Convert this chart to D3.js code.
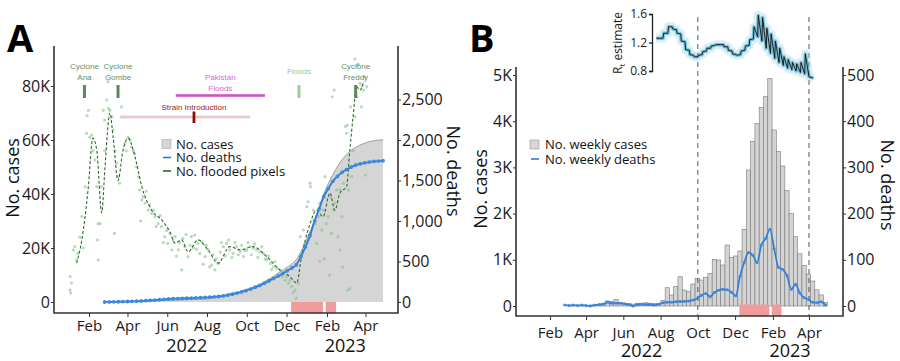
<!DOCTYPE html>
<html>
<head>
<meta charset="utf-8">
<script src="https://cdn.jsdelivr.net/npm/d3@7"></script>
<style>
body { margin: 0; background: #fff; }
svg { display: block; font-family: 'Open Sans', sans-serif; }
</style>
</head>
<body>
<svg id="chart" width="900" height="361"></svg>
<script>
// weekly series, one value per week starting at weekStart
var weekStart = '2022-02-25'
var weeklyCases = [0,5,5,10,10,15,20,20,30,60,110,100,145,80,60,50,40,60,60,70,60,50,60,120,
	396,238,418,634,346,310,476,600,563,621,708,1010,996,887,1320,1054,1082,1190,1660,
	2944,3565,3950,4300,4530,4928,3810,3340,3030,2500,2000,1500,1130,880,690,540,350,240,80]
var weeklyDeaths = [2,1,2,1,2,1,0,2,3,4,8,6,6,6,5,3,0,3,4,3,3,2,4,7,8,8,9,10,10,11,13,16,23,27,20,
	29,34,36,35,30,22,64,94,116,110,94,132,146,166,124,84,79,66,36,47,28,18,14,8,7,9,2]
// cumulative deaths as plotted in panel A
var cumDeaths = [0,1,2,3,5,6,8,10,13,16,20,24,28,33,37,40,42,44,46,48,50,53,56,60,64,68,75,85,97,
	110,125,140,160,182,205,232,260,290,320,350,385,420,460,560,680,820,1000,1150,1300,1400,
	1490,1550,1600,1635,1665,1690,1705,1718,1728,1735,1740,1744]

// flooded pixels: [days since 1 Jan 2022, pixels]
var floodPoints = [[2,4400],[2,9400],[3,3300],[4,7000],[7,19300],[9,20500],[12,15600],[14,18000],[17,24000],
	[20,31600],[22,20000],[25,42700],[27,62500],[28,69000],[30,71000],[32,61000],[35,61800],[37,56000],
	[40,52600],[43,42700],[44,23000],[45,15600],[45,29000],[48,29000],[50,42700],[53,71000],[55,56000],
	[55,67400],[58,74800],[60,81600],[61,71700],[63,71000],[66,68600],[68,63700],[70,25400],[71,56000],
	[73,51400],[76,46400],[78,44000],[81,72300],[84,68600],[86,58800],[88,56000],[91,61000],[94,60000],
	[96,57500],[99,56000],[101,55000],[104,50000],[107,46400],[109,41500],[110,30000],[112,37800],
	[114,39000],[117,36600],[119,41000],[122,34000],[124,36000],[127,32800],[130,34000],[132,31600],
	[134,28000],[137,29000],[140,32000],[142,27900],[145,22000],[147,24200],[150,26500],[152,21700],
	[155,25400],[158,19300],[160,23000],[163,24200],[165,17000],[168,19300],[170,22000],[173,11900],
	[175,23500],[178,20500],[180,25000],[183,16800],[186,21000],[188,24200],[191,20000],[193,24800],
	[196,19500],[198,21700],[201,18000],[204,22300],[206,14000],[209,16800],[211,21000],[214,19300],
	[216,13000],[219,13700],[221,17500],[224,11900],[226,16000],[229,14300],[232,18500],[234,22000],
	[237,20500],[240,17000],[242,21700],[245,23000],[247,19300],[250,16500],[252,18000],[255,22000],
	[257,20500],[260,17500],[263,18600],[265,21000],[268,16800],[270,19000],[273,19300],[275,22000],
	[278,20500],[280,17500],[283,19900],[285,21500],[288,19300],[290,16500],[293,18600],[296,20500],
	[298,18000],[301,16000],[303,15600],[306,17000],[309,14300],[311,12000],[314,13000],[316,15000],
	[319,12500],[321,10000],[324,11900],[327,9400],[329,10600],[332,8100],[334,9400],[337,6900],
	[339,8100],[342,5700],[344,3500],[347,4400],[349,1400],[352,6900],[355,24200],[357,18000],
	[360,26700],[362,21700],[365,35300],[367,37100],[370,44000],[371,42700],[375,34000],[378,29000],
	[380,21700],[383,31600],[385,36600],[385,15000],[388,26700],[390,34000],[392,16000],[393,46400],
	[395,29000],[398,31600],[400,10000],[401,39000],[403,25400],[404,76000],[406,34000],[407,78500],
	[408,36600],[411,41500],[413,24200],[416,41500],[416,19300],[419,31600],[420,13000],[421,44000],
	[424,65000],[426,62500],[427,65500],[428,4400],[429,41500],[431,5000],[432,72300],[434,46400],
	[436,56000],[439,68600],[439,90000],[442,76000],[443,87800],[444,88000],[447,81000],[449,72300],
	[450,80000],[452,78500],[454,83400],[455,47000],[457,79800]]
var floodTrend = [[12,14400],[20,23000],[29.5,41500],[37,60700],[43,56000],[50.5,33000],[55.5,50000],
	[63,70000],[68,61000],[75.5,45000],[83,56000],[91,60700],[101.5,53800],[112,42700],[127,34000],
	[142.5,30400],[155,26000],[163,21800],[173,23000],[183,18600],[198,23000],[213.5,19300],[229,14400],
	[247,20500],[262.6,19300],[282.5,20500],[303.5,16800],[324,11800],[339,9400],[349.6,7000],[357,16800],
	[370,29000],[380,34000],[390,31600],[400.6,40400],[408,34000],[416,40400],[426,42700],[431,56000],
	[436,68600],[441.6,79700],[446.6,78500],[451.7,81000]]

// reproduction number estimate: [days since 1 Jan 2022, Rt]
var rtPoints = [[205,1.26],[216,1.26],[217,1.33],[224,1.33],[225,1.42],[231,1.42],[232,1.39],[238,1.38],
	[239,1.33],[245,1.32],[246,1.22],[252,1.21],[253,1.10],[259,1.09],[260,1.03],[266,1.02],[267,1.0],
	[273,1.0],[274,1.02],[280,1.03],[281,1.07],[287,1.08],[288,1.12],[294,1.12],[295,1.15],[301,1.16],
	[302,1.17],[315,1.17],[316,1.14],[322,1.14],[323,1.09],[329,1.08],[330,1.04],[336,1.03],[337,1.02],
	[343,1.03],[344,1.08],[350,1.09],[351,1.15],[357,1.16],[358,1.24],[364,1.25],[365,1.42],[371,1.28],
	[372,1.58],[378,1.22],[379,1.55],[385,1.12],[386,1.40],[392,1.05],[393,1.32],[399,0.98],[400,1.22],
	[406,0.92],[407,1.12],[413,0.88],[414,1.0],[420,0.84],[421,0.96],[427,0.82],[428,0.92],[434,0.8],
	[435,0.9],[441,0.78],[442,0.92],[448,0.76],[449,1.04],[455,0.72],[462,0.70]]

var pointEvents = [
	{lines: ['Cyclone', 'Ana'], day: 24, kind: 'cyclone'},
	{lines: ['Cyclone', 'Gombe'], day: 75.5, kind: 'cyclone'},
	{lines: ['Floods'], day: 353, kind: 'flood'},
	{lines: ['Cyclone', 'Freddy'], day: 440, kind: 'cyclone'}
]
var pakistanFloods = {lines: ['Pakistan', 'Floods'], from: 164, to: 301}
var strainIntro = {lines: ['Strain Introduction'], from: 78.5, to: 278, mark: 192}

var shadedPeriods = [['2022-12-08', '2023-01-26'], ['2023-01-30', '2023-02-15']]
var dashedDates = ['2022-10-01', '2023-04-01']
var monthTicks = ['2022-02-01','2022-04-01','2022-06-01','2022-08-01','2022-10-01','2022-12-01','2023-02-01','2023-04-01']
var yearLabels = [['2022', '2022-07-01'], ['2023', '2023-03-01']]
var casesTicksA = [0, 20000, 40000, 60000, 80000]
var deathTicksA = [0, 500, 1000, 1500, 2000, 2500]
var casesTicksB = [0, 1000, 2000, 3000, 4000, 5000]
var deathTicksB = [0, 100, 200, 300, 400, 500]
var rtTicks = [0.8, 1.2, 1.6]

var parse = d3.timeParse('%Y-%m-%d')
var day0 = parse('2022-01-01')
var fromDay = function(d) { return new Date(+day0 + d * 864e5) }
var weeks = weeklyCases.map(function(v, i) { return d3.timeDay.offset(parse(weekStart), 7 * i) })
var cumCases = Array.from(d3.cumsum(weeklyCases))

var fmtK = function(v) { return v === 0 ? '0' : (v / 1000) + 'K' }
var domainX = [parse('2022-01-01'), parse('2023-05-01')]

var svg = d3.select('#chart')

var styleAxis = function(g, size) {
	g.attr('font-family', "'Open Sans', sans-serif").attr('font-size', size)
	g.select('.domain').remove()
	g.selectAll('line').attr('stroke', '#333')
	g.selectAll('text').attr('fill', '#1a1a1a')
}

var frame = function(b) {
	var path = 'M' + b.left + ',' + b.top + 'V' + b.bottom + 'H' + b.right + 'V' + b.top
	svg.append('path').attr('d', path).attr('fill', 'none').attr('stroke', '#333').attr('stroke-width', 1.6)
}

var title = function(txt, x, y, rot) {
	svg.append('text').attr('transform', 'translate(' + x + ',' + y + ') rotate(' + rot + ')')
		.attr('text-anchor', 'middle').attr('font-size', 18).attr('fill', '#111').text(txt)
}

/* ---------- panel A ---------- */
var boxA = {left: 54, right: 398, top: 46, bottom: 313}
var xA = d3.scaleTime().domain(domainX).range([68.8, 385])
var yA = d3.scaleLinear().domain([0, 80000]).range([302, 86])
var yA2 = d3.scaleLinear().domain([0, 2500]).range([302, 99.5])

var gA = svg.append('g')

gA.append('path')
	.attr('d', d3.area().x(function(d, i) { return xA(weeks[i]) }).y0(yA(0)).y1(function(d) { return yA(d) })
		.curve(d3.curveMonotoneX)(cumCases))
	.attr('fill', '#d5d5d5')
gA.append('path')
	.attr('d', d3.line().x(function(d, i) { return xA(weeks[i]) }).y(function(d) { return yA(d) })
		.curve(d3.curveMonotoneX)(cumCases))
	.attr('fill', 'none').attr('stroke', '#8c8c8c').attr('stroke-width', 0.8)

gA.selectAll('.shade').data(shadedPeriods).enter().append('rect')
	.attr('x', function(d) { return xA(parse(d[0])) })
	.attr('width', function(d) { return xA(parse(d[1])) - xA(parse(d[0])) })
	.attr('y', yA(0)).attr('height', boxA.bottom - yA(0))
	.attr('fill', '#ef9c9c')

gA.selectAll('.flood').data(floodPoints).enter().append('circle')
	.attr('cx', function(d) { return xA(fromDay(d[0])) })
	.attr('cy', function(d) { return yA(d[1]) })
	.attr('r', 1.6).attr('fill', '#7dbd7d').attr('fill-opacity', 0.55)

gA.append('path')
	.attr('d', d3.line().x(function(d) { return xA(fromDay(d[0])) }).y(function(d) { return yA(d[1]) })
		.curve(d3.curveMonotoneX)(floodTrend))
	.attr('fill', 'none').attr('stroke', '#2c6a2c').attr('stroke-width', 1.1).attr('stroke-dasharray', '3,2')

gA.append('path')
	.attr('d', d3.line().x(function(d, i) { return xA(weeks[i]) }).y(function(d) { return yA2(d) })
		.curve(d3.curveMonotoneX)(cumDeaths))
	.attr('fill', 'none').attr('stroke', '#2b7bd6').attr('stroke-width', 1.8)
gA.selectAll('.dA').data(cumDeaths).enter().append('circle')
	.attr('cx', function(d, i) { return xA(weeks[i]) })
	.attr('cy', function(d) { return yA2(d) })
	.attr('r', 1.9).attr('fill', '#3b8ae0')

// event annotations
var evColor = {cyclone: ['#5f8f5f', '#5a8a5a'], flood: ['#8fcc8f', '#98d098']}
pointEvents.forEach(function(e) {
	var x = xA(fromDay(e.day))
	var y0 = e.lines.length === 2 ? 68.5 : 74
	e.lines.forEach(function(t, j) {
		gA.append('text').attr('x', x).attr('y', y0 + j * 11.5).attr('text-anchor', 'middle')
			.attr('font-family', "'Liberation Sans', Arial, sans-serif").attr('font-size', 8)
			.attr('fill', evColor[e.kind][0]).text(t)
	})
	gA.append('rect').attr('x', x - 1.5).attr('width', 3).attr('y', 85).attr('height', 13)
		.attr('fill', evColor[e.kind][1])
})
pakistanFloods.lines.forEach(function(t, j) {
	gA.append('text').attr('x', (xA(fromDay(pakistanFloods.from)) + xA(fromDay(pakistanFloods.to))) / 2)
		.attr('y', 79.5 + j * 11.5).attr('text-anchor', 'middle')
		.attr('font-family', "'Liberation Sans', Arial, sans-serif").attr('font-size', 8)
		.attr('fill', '#dc63d5').text(t)
})
gA.append('rect').attr('x', xA(fromDay(pakistanFloods.from))).attr('y', 94.2)
	.attr('width', xA(fromDay(pakistanFloods.to)) - xA(fromDay(pakistanFloods.from))).attr('height', 2.6)
	.attr('fill', '#cf52c8')
gA.append('rect').attr('x', xA(fromDay(strainIntro.from))).attr('y', 115.6)
	.attr('width', xA(fromDay(strainIntro.to)) - xA(fromDay(strainIntro.from))).attr('height', 2.8)
	.attr('fill', '#e9c9c9')
gA.append('rect').attr('x', xA(fromDay(strainIntro.mark)) - 1.4).attr('y', 111.5)
	.attr('width', 2.8).attr('height', 11.5).attr('fill', '#8c0d0d')
gA.append('text').attr('x', xA(fromDay(strainIntro.mark))).attr('y', 109.5).attr('text-anchor', 'middle')
	.attr('font-family', "'Liberation Sans', Arial, sans-serif").attr('font-size', 8)
	.attr('fill', '#9c1c1c').text(strainIntro.lines[0])

// axes
svg.append('g').attr('transform', 'translate(0,' + boxA.bottom + ')')
	.call(d3.axisBottom(xA).tickValues(monthTicks.map(parse)).tickFormat(d3.timeFormat('%b')).tickSize(4).tickPadding(3))
	.call(styleAxis, 15)
svg.append('g').attr('transform', 'translate(' + boxA.left + ',0)')
	.call(d3.axisLeft(yA).tickValues(casesTicksA).tickFormat(fmtK).tickSize(3).tickPadding(1))
	.call(styleAxis, 16)
svg.append('g').attr('transform', 'translate(' + boxA.right + ',0)')
	.call(d3.axisRight(yA2).tickValues(deathTicksA).tickFormat(d3.format(',')).tickSize(3).tickPadding(1))
	.call(styleAxis, 16)
frame(boxA)

yearLabels.forEach(function(y) {
	svg.append('text').attr('x', xA(parse(y[1]))).attr('y', 352).attr('text-anchor', 'middle')
		.attr('font-size', 18).attr('fill', '#111').text(y[0])
})
title('No. cases', 19, 178, -90)
title('No. deaths', 447, 171, 90)
svg.append('text').attr('x', 7).attr('y', 52).attr('font-size', 38).attr('font-weight', 'bold').text('A')

// legend A
var legA = svg.append('g').attr('font-size', 13).attr('fill', '#111')
legA.append('rect').attr('x', 162).attr('y', 139.5).attr('width', 9).attr('height', 9)
	.attr('fill', '#d5d5d5').attr('stroke', '#aaa').attr('stroke-width', 0.6)
legA.append('line').attr('x1', 163).attr('x2', 171).attr('y1', 157.5).attr('y2', 157.5).attr('stroke', '#2b7bd6').attr('stroke-width', 1.6)
legA.append('line').attr('x1', 163).attr('x2', 171).attr('y1', 171).attr('y2', 171).attr('stroke', '#2c6a2c').attr('stroke-width', 1.6)
;['No. cases', 'No. deaths', 'No. flooded pixels'].forEach(function(t, i) {
	legA.append('text').attr('x', 176).attr('y', 148.5 + i * 13.5).text(t)
})

/* ---------- panel B ---------- */
var boxB = {left: 516, right: 843, top: 67, bottom: 316}
var xB = d3.scaleTime().domain(domainX).range([531.1, 827.3])
var yB = d3.scaleLinear().domain([0, 5000]).range([306, 75])
var yB2 = d3.scaleLinear().domain([0, 500]).range([306, 75])

var gB = svg.append('g')
var weekW = xB(d3.timeDay.offset(weeks[0], 7)) - xB(weeks[0])
gB.selectAll('.bar').data(weeklyCases).enter().append('rect')
	.attr('x', function(d, i) { return xB(weeks[i]) - weekW / 2 })
	.attr('width', weekW)
	.attr('y', function(d) { return yB(d) })
	.attr('height', function(d) { return yB(0) - yB(d) })
	.attr('fill', '#d4d4d4').attr('stroke', '#7a7a7a').attr('stroke-width', 0.6)

gB.selectAll('.dash').data(dashedDates).enter().append('line')
	.attr('x1', function(d) { return xB(parse(d)) }).attr('x2', function(d) { return xB(parse(d)) })
	.attr('y1', 17).attr('y2', boxB.bottom)
	.attr('stroke', '#555').attr('stroke-width', 1).attr('stroke-dasharray', '5,4')

gB.selectAll('.shade').data(shadedPeriods).enter().append('rect')
	.attr('x', function(d) { return xB(parse(d[0])) })
	.attr('width', function(d) { return xB(parse(d[1])) - xB(parse(d[0])) })
	.attr('y', yB(0) - 1.5).attr('height', boxB.bottom - yB(0) + 1.5)
	.attr('fill', '#ef9c9c')

gB.append('path')
	.attr('d', d3.line().x(function(d, i) { return xB(weeks[i]) }).y(function(d) { return yB2(d) })
		.curve(d3.curveMonotoneX)(weeklyDeaths))
	.attr('fill', 'none').attr('stroke', '#2b7bd6').attr('stroke-width', 1.6)
gB.selectAll('.dB').data(weeklyDeaths).enter().append('circle')
	.attr('cx', function(d, i) { return xB(weeks[i]) })
	.attr('cy', function(d) { return yB2(d) })
	.attr('r', 1.5).attr('fill', '#3b8ae0')

svg.append('g').attr('transform', 'translate(0,' + boxB.bottom + ')')
	.call(d3.axisBottom(xB).tickValues(monthTicks.map(parse)).tickFormat(d3.timeFormat('%b')).tickSize(4).tickPadding(7))
	.call(styleAxis, 15)
svg.append('g').attr('transform', 'translate(' + boxB.left + ',0)')
	.call(d3.axisLeft(yB).tickValues(casesTicksB).tickFormat(fmtK).tickSize(3).tickPadding(1))
	.call(styleAxis, 16)
svg.append('g').attr('transform', 'translate(' + boxB.right + ',0)')
	.call(d3.axisRight(yB2).tickValues(deathTicksB).tickSize(3).tickPadding(1))
	.call(styleAxis, 16)
frame(boxB)

yearLabels.forEach(function(y) {
	svg.append('text').attr('x', xB(parse(y[1]))).attr('y', 357).attr('text-anchor', 'middle')
		.attr('font-size', 18).attr('fill', '#111').text(y[0])
})
title('No. cases', 487, 189, -90)
title('No. deaths', 881, 185, 90)
svg.append('text').attr('x', 469).attr('y', 52).attr('font-size', 38).attr('font-weight', 'bold').text('B')

var legB = svg.append('g').attr('font-size', 13).attr('fill', '#111')
legB.append('rect').attr('x', 530).attr('y', 140).attr('width', 9).attr('height', 9)
	.attr('fill', '#d5d5d5').attr('stroke', '#999').attr('stroke-width', 0.6)
legB.append('line').attr('x1', 531).attr('x2', 539).attr('y1', 159).attr('y2', 159).attr('stroke', '#2b7bd6').attr('stroke-width', 1.6)
;['No. weekly cases', 'No. weekly deaths'].forEach(function(t, i) {
	legB.append('text').attr('x', 545).attr('y', 148.5 + i * 15).text(t)
})

// Rt inset
var yR = d3.scaleLinear().domain([0.8, 1.6]).range([71, 14])
var rtLine = d3.line().x(function(d) { return xB(fromDay(d[0])) }).y(function(d) { return yR(d[1]) })
var gR = svg.append('g')
gR.append('path').attr('d', rtLine(rtPoints)).attr('fill', 'none')
	.attr('stroke', '#8fd0e6').attr('stroke-opacity', 0.35).attr('stroke-width', 9).attr('stroke-linejoin', 'round')
gR.append('path').attr('d', rtLine(rtPoints)).attr('fill', 'none')
	.attr('stroke', '#1f8fb8').attr('stroke-opacity', 0.5).attr('stroke-width', 3.5).attr('stroke-linejoin', 'round')
gR.append('path').attr('d', rtLine(rtPoints)).attr('fill', 'none')
	.attr('stroke', '#111').attr('stroke-width', 0.9)
svg.append('g').attr('transform', 'translate(652,0)')
	.call(d3.axisLeft(yR).tickValues(rtTicks).tickFormat(d3.format('.1f')).tickSize(3).tickPadding(2))
	.call(function(g) {
		g.attr('font-family', "'Open Sans', sans-serif").attr('font-size', 12)
		g.selectAll('path,line').attr('stroke', '#222').attr('stroke-width', 1.3)
		g.selectAll('text').attr('fill', '#1a1a1a')
	})
var rl = svg.append('text').attr('transform', 'translate(622,43) rotate(-90)').attr('text-anchor', 'middle')
	.attr('font-size', 12).attr('fill', '#1a1a1a')
rl.append('tspan').text('R')
rl.append('tspan').attr('font-size', 8).attr('dy', 3).text('t')
rl.append('tspan').attr('dy', -3).text(' estimate')
</script>
</body>
</html>
